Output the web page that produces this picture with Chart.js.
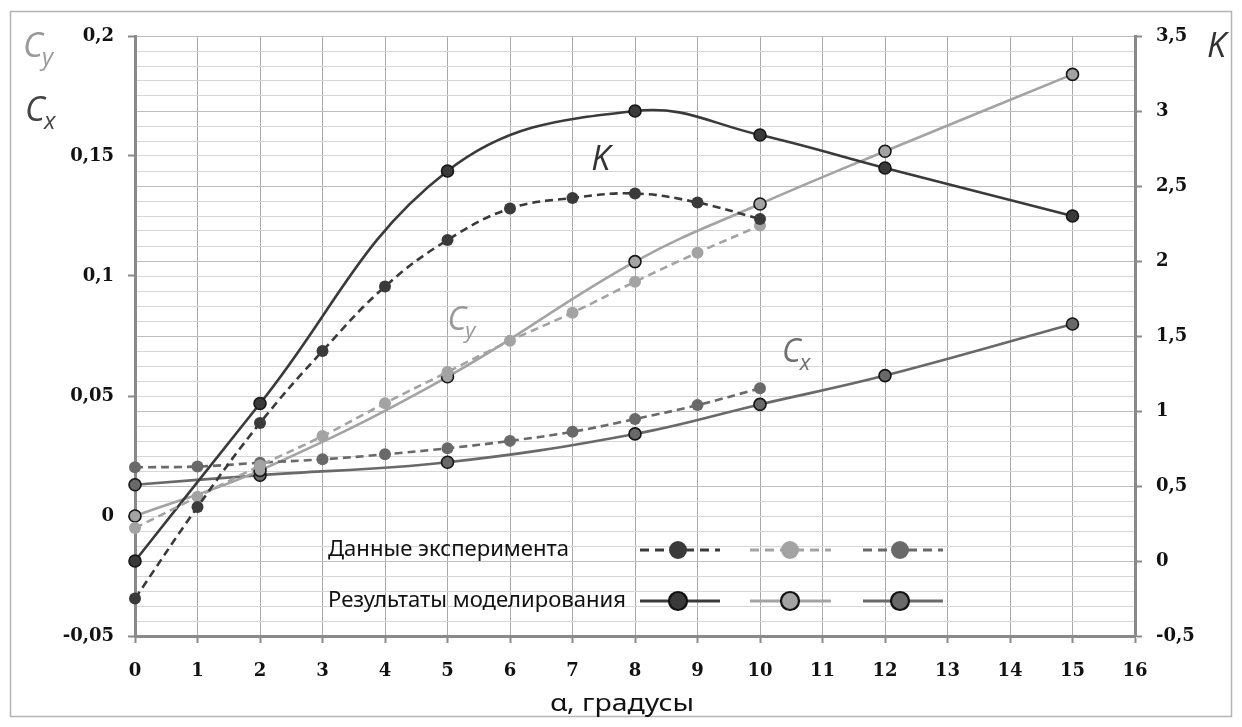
<!DOCTYPE html>
<html><head><meta charset="utf-8">
<script src="https://cdn.jsdelivr.net/npm/chart.js@4.4.0/dist/chart.umd.min.js"></script>
<style>html,body{margin:0;padding:0;background:#fff;}canvas{display:block;}</style>
</head><body>
<canvas id="c" width="1242" height="727"></canvas>
<script>
// ---- data ----
const alphaExp = [0, 1, 2, 3, 4, 5, 6, 7, 8, 9, 10];
const kExp  = [-0.25, 0.36, 0.92, 1.40, 1.83, 2.14, 2.35, 2.42, 2.45, 2.39, 2.28];
const cyExp = [-0.005, 0.008, 0.021, 0.0333, 0.047, 0.060, 0.073, 0.0847, 0.0976, 0.1097, 0.121];
const cxExp = [0.0203, 0.0206, 0.0222, 0.0236, 0.0257, 0.0282, 0.0313, 0.0351, 0.0404, 0.0462, 0.0532];

const alphaSim = [0, 2, 5, 8, 10, 12, 15];
const kSim  = [0.0, 1.05, 2.60, 3.00, 2.84, 2.62, 2.30];
const cySim = [0.0, 0.019, 0.058, 0.106, 0.130, 0.152, 0.184];
const cxSim = [0.013, 0.017, 0.0224, 0.0342, 0.0465, 0.0585, 0.080];

const xTickLabels = ['0','1','2','3','4','5','6','7','8','9','10','11','12','13','14','15','16'];
const leftTickLabels = {'-0.05':'-0,05','0':'0','0.05':'0,05','0.1':'0,1','0.15':'0,15','0.2':'0,2'};
const rightTickLabels = {'-0.5':'-0,5','0':'0','0.5':'0,5','1':'1','1.5':'1,5','2':'2','2.5':'2,5','3':'3','3.5':'3,5'};
const legendRows = ['Данные эксперимента', 'Результаты моделирования'];
const xTitle = 'α, градусы';

function pts(xs, ys){ return xs.map((x,i)=>({x:x, y:ys[i]})); }
function key(v){ return String(Math.round(v*1000)/1000); }

const C_K = '#3a3a3a', C_Y = '#a3a3a3', C_X = '#696969';

function expSet(label, xs, ys, color, axis){
  return {label, data:pts(xs,ys), yAxisID:axis, borderColor:color, backgroundColor:color,
    borderWidth:2.6, borderDash:[8,5], tension:0.4, pointRadius:6, pointHoverRadius:6,
    pointBackgroundColor:color, pointBorderColor:color, pointBorderWidth:0, clip:false};
}
function simSet(label, xs, ys, color, axis){
  return {label, data:pts(xs,ys), yAxisID:axis, borderColor:color, backgroundColor:color,
    borderWidth:2.6, tension:0.4, pointRadius:6, pointHoverRadius:6,
    pointBackgroundColor:color, pointBorderColor:'#151515', pointBorderWidth:1.6, clip:false};
}

const AX = '#8a8a8a';
const tickFont = {family:'DejaVu Serif', weight:'bold', size:18};

function fitText(ctx, text, left, y, width){
  const w = ctx.measureText(text).width;
  ctx.save(); ctx.translate(left, y); ctx.scale(width / w, 1);
  ctx.textAlign = 'left'; ctx.fillText(text, 0, 0); ctx.restore();
}

const deco = {
  id:'deco',
  beforeDraw(chart){
    const ctx = chart.ctx; ctx.save();
    ctx.fillStyle = '#fff'; ctx.fillRect(0,0,chart.width,chart.height);
    ctx.strokeStyle = '#b4b4b4'; ctx.lineWidth = 1.5;
    ctx.strokeRect(10.5, 11.5, 1221, 705);
    ctx.restore();
  },
  afterDraw(chart){
    const ctx = chart.ctx, sx = chart.scales.x, sl = chart.scales.y, sr = chart.scales.y2;
    ctx.save();
    function cLabel(x, y, sub, color, size){
      ctx.fillStyle = color; ctx.textBaseline = 'alphabetic'; ctx.textAlign = 'left';
      ctx.font = 'italic ' + size + 'px "Open Sans"';
      ctx.fillText('C', x, y);
      const w = ctx.measureText('C').width;
      ctx.font = 'italic ' + Math.round(size*0.7) + 'px "Open Sans"';
      ctx.fillText(sub, x + w - 1, y + 8);
    }
    cLabel(23, 57, 'y', '#9a9a9a', 34);
    cLabel(25, 121, 'x', '#444', 34);
    ctx.fillStyle = '#333'; ctx.font = 'italic 34px "Open Sans"'; ctx.textAlign='left';
    ctx.fillText('K', 1207, 57);
    // in-plot labels
    ctx.fillText('K', sx.getPixelForValue(7.3), sr.getPixelForValue(2.61));
    cLabel(sx.getPixelForValue(5.0), sl.getPixelForValue(0.0775), 'y', '#9a9a9a', 32);
    cLabel(sx.getPixelForValue(10.35), sl.getPixelForValue(0.0642), 'x', '#707070', 32);
    // x title
    ctx.fillStyle = '#111'; ctx.font = '24px "Noto Sans"'; ctx.textBaseline = 'middle';
    fitText(ctx, xTitle, 550, 704, 144);
    // legend
    ctx.font = '21px "Noto Sans"'; ctx.textBaseline = 'middle'; ctx.fillStyle = '#111';
    const rows = [550, 601];
    const wRef = ctx.measureText(legendRows[1]).width;
    const sc = 298 / wRef;
    fitText(ctx, legendRows[0], 328, rows[0], ctx.measureText(legendRows[0]).width * sc);
    fitText(ctx, legendRows[1], 328, rows[1], 298);
    const samples = [[640,720,678,C_K],[750,831,790,C_Y],[863,943,900,C_X]];
    rows.forEach((ry, ri) => {
      samples.forEach(s => {
        ctx.strokeStyle = s[3]; ctx.lineWidth = 3.2;
        ctx.setLineDash(ri === 0 ? [9,6] : []);
        ctx.beginPath(); ctx.moveTo(s[0], ry); ctx.lineTo(s[1], ry); ctx.stroke();
        ctx.setLineDash([]);
        ctx.beginPath(); ctx.arc(s[2], ry, 9, 0, Math.PI*2);
        ctx.fillStyle = s[3]; ctx.fill();
        if (ri === 1){ ctx.lineWidth = 2.2; ctx.strokeStyle = '#111'; ctx.stroke(); }
      });
    });
    ctx.restore();
  }
};

new Chart(document.getElementById('c'), {
  type:'line',
  data:{ datasets:[
    expSet('K эксп.', alphaExp, kExp, C_K, 'y2'),
    expSet('Cy эксп.', alphaExp, cyExp, C_Y, 'y'),
    expSet('Cx эксп.', alphaExp, cxExp, C_X, 'y'),
    simSet('K мод.', alphaSim, kSim, C_K, 'y2'),
    simSet('Cy мод.', alphaSim, cySim, C_Y, 'y'),
    simSet('Cx мод.', alphaSim, cxSim, C_X, 'y')
  ]},
  options:{
    responsive:false, devicePixelRatio:1, animation:false,
    layout:{padding:{top:36, left:0, right:0, bottom:0}},
    plugins:{legend:{display:false}, tooltip:{enabled:false}},
    scales:{
      x:{type:'linear', position:'bottom', min:0, max:16,
        ticks:{stepSize:1, autoSkip:false, maxRotation:0, color:'#111', font:tickFont, padding:18,
          callback:(v)=>xTickLabels[Math.round(v)] ?? ''},
        grid:{color:'#a9a9a9', lineWidth:1, tickLength:7, tickColor:AX, tickWidth:2},
        border:{color:AX, width:3},
        afterFit(s){ s.height = 91; }
      },
      y:{type:'linear', position:'left', min:-0.05, max:0.2,
        ticks:{stepSize:0.05, autoSkip:false, color:'#111', font:tickFont, padding:14,
          callback:(v)=>leftTickLabels[key(v)] ?? ''},
        grid:{drawOnChartArea:false, tickLength:7, tickColor:AX, tickWidth:2},
        border:{color:AX, width:3},
        afterFit(s){ s.width = 135; }
      },
      y2:{type:'linear', position:'right', min:-0.5, max:3.5,
        ticks:{stepSize:0.1, autoSkip:false, color:'#111', font:tickFont, padding:14,
          callback:(v)=>rightTickLabels[key(v)] ?? ''},
        grid:{drawOnChartArea:true, tickLength:7, tickWidth:2, lineWidth:1,
          color:(c)=> (rightTickLabels[key(c.tick.value)] !== undefined ? '#bdbdbd' : '#d6d6d6'),
          tickColor:(c)=> (rightTickLabels[key(c.tick.value)] !== undefined ? AX : 'rgba(0,0,0,0)')},
        border:{color:AX, width:3},
        afterFit(s){ s.width = 107; }
      }
    }
  },
  plugins:[deco]
});
</script>
</body></html>
